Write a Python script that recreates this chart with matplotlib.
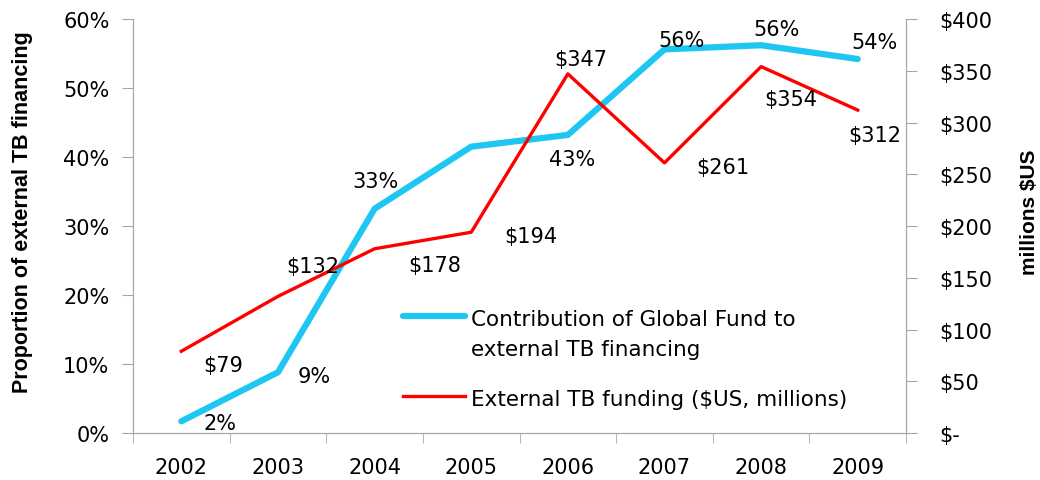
import matplotlib
matplotlib.use('agg')
import matplotlib.pyplot as plt
import numpy as np
from matplotlib import ticker
from matplotlib.lines import Line2D

years = ['2002', '2003', '2004', '2005', '2006', '2007', '2008', '2009']
gf_share = [1.7, 8.8, 32.5, 41.5, 43.2, 55.6, 56.2, 54.2]   # % of external TB financing
gf_labels = ['2%', '9%', '33%', None, '43%', '56%', '56%', '54%']
ext_funding = [79, 132, 178, 194, 347, 261, 354, 312]       # $US millions
ext_labels = ['$79', '$132', '$178', '$194', '$347', '$261', '$354', '$312']

blue = '#1EC6F2'
red = '#FF0000'
grey = '#A6A6A6'
tfont = 'DejaVu Sans'

fig = plt.figure(figsize=(10.4, 4.81), dpi=100)
ax = fig.add_axes([0.1279, 0.0977, 0.7433, 0.8607])
ax2 = ax.twinx()

x = np.arange(len(years))
ax.plot(x, gf_share, color=blue, lw=4.5, solid_capstyle='round', zorder=3)
ax2.plot(x, ext_funding, color=red, lw=2.4, zorder=3)

ax.set_xlim(-0.5, len(years) - 0.5)
ax.set_ylim(0, 60)
ax2.set_ylim(0, 400)
ax.set_yticks(np.arange(0, 61, 10))
ax.yaxis.set_major_formatter(ticker.FuncFormatter(lambda v, p: '%d%%' % v))
ax2.set_yticks(np.arange(0, 401, 50))
ax2.yaxis.set_major_formatter(ticker.FuncFormatter(lambda v, p: '$-' if v == 0 else '$%d' % v))
ax.set_xticks(x)
ax.set_xticklabels(years)
ax.set_xticks(np.arange(-0.5, len(years)), minor=True)
ax.tick_params(axis='x', which='major', length=0, pad=17, labelsize=15)
ax.tick_params(axis='x', which='minor', length=7, color=grey, direction='out')

for a in (ax, ax2):
    for s in a.spines.values():
        s.set_color(grey)
    a.spines['top'].set_visible(False)
    a.tick_params(axis='y', length=8, color=grey, labelsize=15)
ax.tick_params(axis='y', pad=9)
ax2.tick_params(axis='y', pad=16)
for lab in ax.get_yticklabels() + ax2.get_yticklabels() + ax.get_xticklabels():
    lab.set_fontfamily(tfont)

ax.set_ylabel('Proportion of external TB financing', fontsize=15.5, fontweight='bold',
              family='Liberation Sans', rotation=90, ha='center', va='center')
ax2.set_ylabel('millions $US', fontsize=15, fontweight='bold', family='Liberation Sans',
               rotation=90, ha='center', va='center')
ax.yaxis.set_label_coords(-0.1436, 0.535)
ax2.yaxis.set_label_coords(1.160, 0.535)

# data label offsets (points)
gf_off = [(28, -1), (26, -3), (1, 20), None, (3, -17), (12, 7), (11, 12), (12, 12)]
ext_off = [(30, -10), (25, 22), (43, -12), (43, -3), (9, 11), (42, -3), (21, -23), (12, -18)]
for i in range(len(years)):
    if gf_labels[i] is not None:
        ax.annotate(gf_labels[i], (x[i], gf_share[i]), xytext=gf_off[i], textcoords='offset points',
                    ha='center', va='center', fontsize=15, family=tfont, zorder=5)
    ax2.annotate(ext_labels[i], (x[i], ext_funding[i]), xytext=ext_off[i], textcoords='offset points',
                 ha='center', va='center', fontsize=15, family=tfont, zorder=5)

# legend drawn in axes coordinates
tr = ax2.transAxes
ax2.add_line(Line2D([0.349, 0.430], [0.283, 0.283], transform=tr, color=blue, lw=4.5,
                    solid_capstyle='round'))
ax2.add_line(Line2D([0.349, 0.430], [0.089, 0.089], transform=tr, color=red, lw=2.4))
ax2.text(0.437, 0.275, 'Contribution of Global Fund to', transform=tr, va='center',
         fontsize=15.5, family=tfont)
ax2.text(0.437, 0.203, 'external TB financing', transform=tr, va='center',
         fontsize=15.5, family=tfont)
ax2.text(0.437, 0.082, 'External TB funding ($US, millions)', transform=tr, va='center',
         fontsize=15.5, family=tfont)

fig.savefig('out.png', dpi=100)
